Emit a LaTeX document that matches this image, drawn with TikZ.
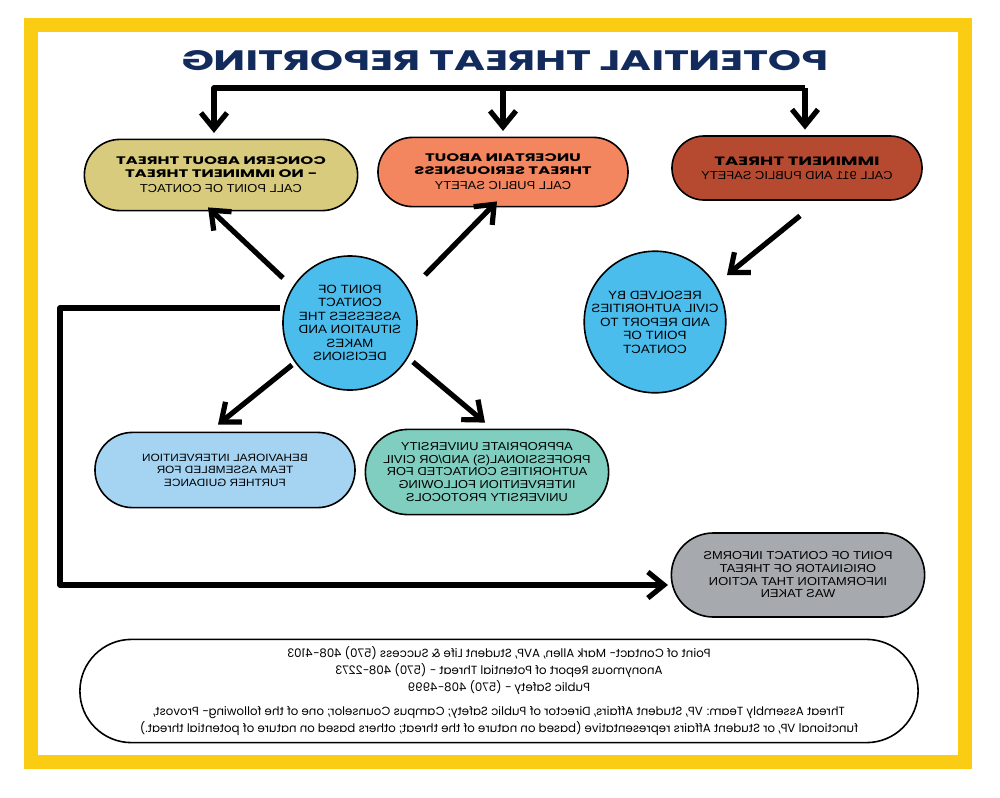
\documentclass[tikz,border=0pt]{standalone}
\usepackage{fontspec}
\setmainfont{Liberation Sans}[FakeStretch=1.12]
\newfontfamily\headfont{Poppins}[FakeStretch=1.5]
\newfontfamily\notefont{Poppins}
\usetikzlibrary{arrows.meta,positioning,shapes.misc,calc}

\definecolor{frameyellow}{HTML}{FACC14}
\definecolor{titleblue}{HTML}{122B5C}
\definecolor{concernfill}{HTML}{D8CB7D}
\definecolor{uncertainfill}{HTML}{F4865F}
\definecolor{imminentfill}{HTML}{B54A31}
\definecolor{discfill}{HTML}{4BBDEC}
\definecolor{behavfill}{HTML}{A5D3F2}
\definecolor{appropfill}{HTML}{7FCEBF}
\definecolor{informsfill}{HTML}{A6AAAF}

\newcommand\boxhead[1]{{\headfont\bfseries\fontsize{7.8}{9.5}\selectfont #1}}

\begin{document}
\begin{tikzpicture}[
  x=0.025cm, y=-0.025cm,
  every node/.append style={xscale=-1},
  pill/.style={rounded rectangle, draw=black, line width=0.4mm, align=center, inner sep=0pt, font=\fontsize{8.2}{9}\selectfont},
  disc/.style={circle, draw=black, line width=0.4mm, fill=discfill, align=center, inner sep=0pt, font=\fontsize{8.5}{9.6}\selectfont},
  arrow/.style={line width=1.3mm, line join=round, -{Straight Barb[length=4mm,width=6.5mm]}}
]
\useasboundingbox (0,0) rectangle (1000,797);
\draw[frameyellow, line width=3.4mm] (31,25) rectangle (965,762);

\node[font=\headfont\bfseries\fontsize{20}{22}\selectfont, text=titleblue] (title) at (505,61) {POTENTIAL THREAT REPORTING};

% three levels of threat
\node[pill, fill=concernfill, minimum width=6.83cm, minimum height=1.78cm] (concern) at (221,175)
  {\boxhead{CONCERN ABOUT THREAT}\\\boxhead{- NO IMMINENT THREAT}\\[2pt]CALL POINT OF CONTACT};
\node[pill, fill=uncertainfill, minimum width=6.25cm, minimum height=1.73cm] (uncertain) at (503,172)
  {\boxhead{UNCERTAIN ABOUT}\\\boxhead{THREAT SERIOUSNESS}\\[2pt]CALL PUBLIC SAFETY};
\node[pill, fill=imminentfill, minimum width=6.25cm, minimum height=1.6cm] (imminent) at (797,168)
  {{\headfont\bfseries\fontsize{8.6}{10}\selectfont IMMINENT THREAT}\\[1pt]CALL 911 AND PUBLIC SAFETY};

\node[disc, minimum size=3.35cm] (poc) at (350,323)
  {POINT OF\\CONTACT\\ASSESSES THE\\SITUATION AND\\MAKES\\DECISIONS};
\node[disc, minimum size=3.5cm] (resolved) at (655,322)
  {RESOLVED BY\\CIVIL AUTHORITIES\\AND REPORT TO\\POINT OF\\CONTACT};

\node[pill, fill=behavfill, minimum width=6.5cm, minimum height=1.88cm, font=\fontsize{7.5}{8.8}\selectfont] (behav) at (225,470)
  {BEHAVIORAL INTERVENTION\\TEAM ASSEMBLED FOR\\FURTHER GUIDANCE};
\node[pill, fill=appropfill, minimum width=6.08cm, minimum height=2.13cm] (approp) at (487,472)
  {APPROPRIATE UNIVERSITY\\PROFESSIONAL(S) AND/OR CIVIL\\AUTHORITIES CONTACTED FOR\\INTERVENTION FOLLOWING\\UNIVERSITY PROTOCOLS};
\node[pill, fill=informsfill, minimum width=6.33cm, minimum height=2.1cm] (informs) at (798,575)
  {POINT OF CONTACT INFORMS\\ORIGINATOR OF THREAT\\INFORMATION THAT ACTION\\WAS TAKEN};

\node[pill, fill=white, minimum width=20.95cm, minimum height=2.58cm, font=\notefont\fontsize{8.4}{12}\selectfont] (contacts) at (499,691)
  {Point of Contact- Mark Allen, AVP, Student Life \& Success (570) 408-4103\\
   Anonymous Report of Potential Threat - (570) 408-2273\\
   Public Safety - (570) 408-4999\\[5pt]
   Threat Assembly Team: VP, Student Affairs, Director of Public Safety; Campus Counselor; one of the following- Provost,\\
   functional VP, or Student Affairs representative (based on nature of the threat; others based on nature of potential threat.)};

% connectors
\coordinate (barL) at (214,88);
\coordinate (barR) at (805,88);
\coordinate (turn) at (60,308);
\draw[arrow] (barR) -- (barL) -- ([yshift=4pt]barL |- concern.north);
\draw[arrow] (barR) -- ([yshift=4pt]barR |- imminent.north);
\draw[arrow] (barL -| uncertain) -- ([yshift=4pt]uncertain.north);

\draw[arrow] ($(poc)+(-67,-45)$) -- ($(concern.south)+(-13,-4)$);
\draw[arrow] ($(poc)+(75,-48)$) -- ($(uncertain.south)+(-6,-6)$);
\draw[arrow] ($(poc)+(-58,42)$) -- ($(behav.north)+(-7,-7)$);
\draw[arrow] ($(poc)+(63,39)$) -- ($(approp.north)+(-2,-6)$);
\draw[arrow] ($(imminent.south)+(3,15)$) -- ($(resolved)+(72,-47)$);
\draw[arrow] ($(poc)+(-70,-15)$) -- (turn) |- ($(informs)+(-130,10)$);
\end{tikzpicture}
\end{document}
